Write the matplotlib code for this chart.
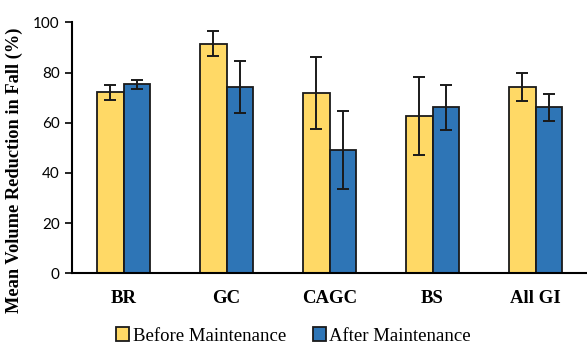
import matplotlib
matplotlib.use("Agg")
import matplotlib.pyplot as plt
import numpy as np

categories = ["BR", "GC", "CAGC", "BS", "All GI"]
before = [72.1, 91.4, 71.7, 62.7, 74.3]
before_err = [2.9, 5.0, 14.4, 15.5, 5.6]
after = [75.4, 74.3, 49.0, 66.1, 66.1]
after_err = [1.8, 10.3, 15.6, 9.0, 5.5]
series_labels = ["Before Maintenance", "After Maintenance"]
yticks = [0, 20, 40, 60, 80, 100]

plt.rcParams["font.family"] = ["Liberation Serif", "DejaVu Serif"]

fig = plt.figure(figsize=(5.87, 3.49), dpi=100)
ax = fig.add_axes([0.123, 0.217, 0.877, 0.719])

x = np.arange(len(categories))
w = 0.26
ekw = dict(elinewidth=1.4, capthick=1.4, ecolor="#1a1a1a")
ax.bar(x - w / 2, before, w, yerr=before_err, capsize=4, color="#FFD966",
       edgecolor="#1a1a1a", linewidth=1.3, label=series_labels[0], error_kw=ekw)
ax.bar(x + w / 2, after, w, yerr=after_err, capsize=4, color="#2E75B6",
       edgecolor="#1a1a1a", linewidth=1.3, label=series_labels[1], error_kw=ekw)

ax.set_xlim(-0.5, len(categories) - 0.5)
ax.set_ylim(0, 100)
ax.set_yticks(yticks)
ax.set_xticks(x)
ax.set_xticklabels(categories, fontsize=13.5, fontweight="bold")
ax.tick_params(axis="x", length=0, pad=12)
ax.tick_params(axis="y", direction="out", length=5, width=1.2, pad=4)
for lbl in ax.get_yticklabels():
    lbl.set_fontfamily(["Lato", "DejaVu Sans"])
    lbl.set_fontsize(11)
for s in ["top", "right"]:
    ax.spines[s].set_visible(False)
for s in ["left", "bottom"]:
    ax.spines[s].set_linewidth(1.5)
ax.set_ylabel("Mean Volume Reduction in Fall (%)", fontsize=13.2, fontweight="bold")
ax.yaxis.set_label_coords(-0.096, 0.41)

ax.legend(loc="center", bbox_to_anchor=(0.43, -0.25), ncol=2, frameon=False,
          fontsize=13.5, handlelength=0.7, handleheight=0.7, handletextpad=0.2,
          columnspacing=1.4, borderpad=0)

fig.savefig("out.png", dpi=100)
